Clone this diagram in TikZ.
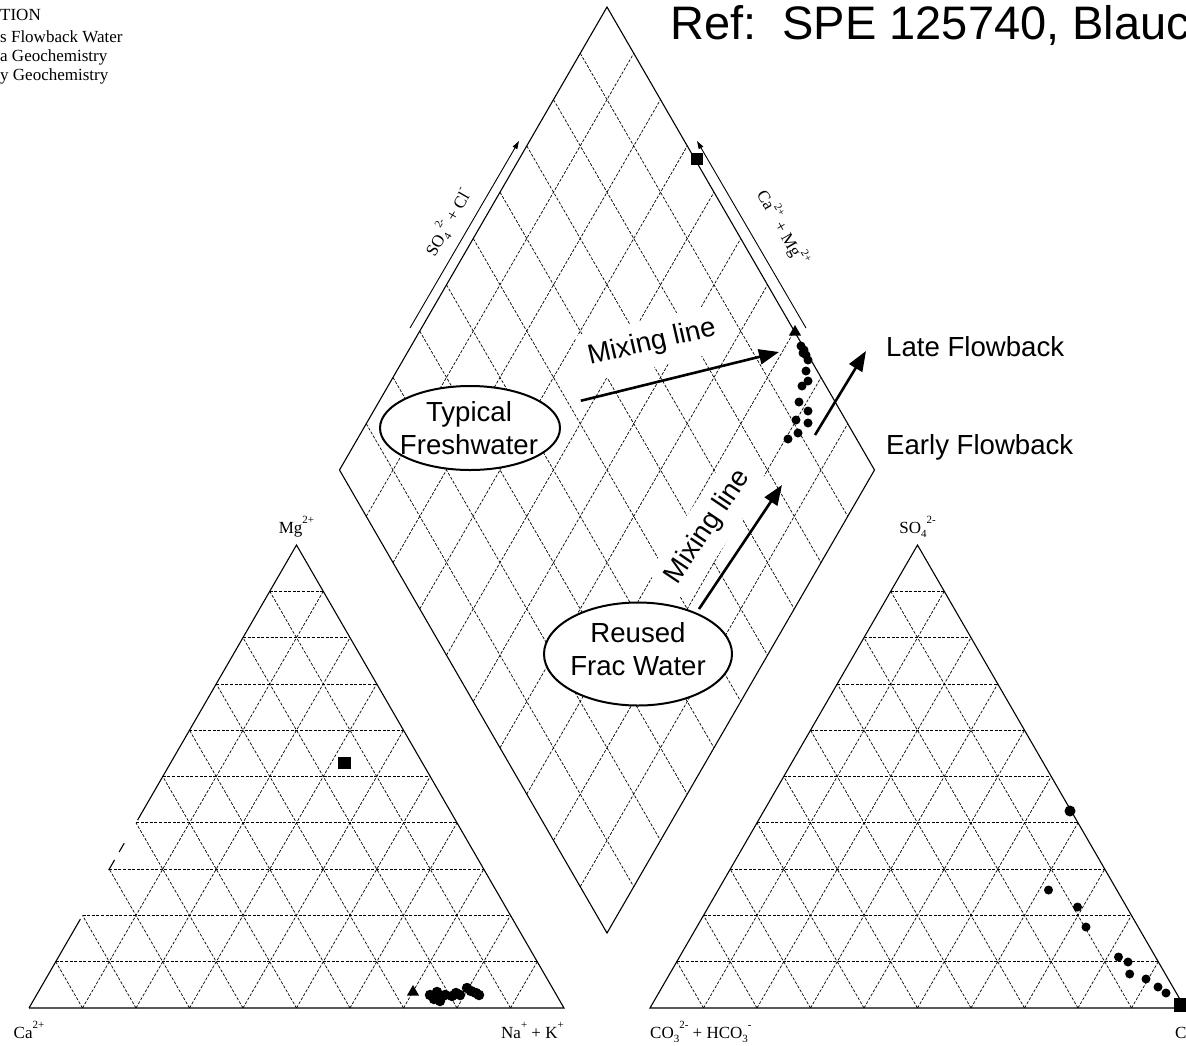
\documentclass[tikz,border=0pt]{standalone}
\usepackage{fontspec}
\setmainfont{Liberation Serif}
\newfontfamily\arialf{Liberation Sans}
\usetikzlibrary{arrows.meta,calc,shapes.geometric}
\newcommand\supx[1]{\raisebox{0.55em}{\fontsize{11}{11}\selectfont #1}}
\newcommand\subx[1]{\raisebox{-0.25em}{\fontsize{11}{11}\selectfont #1}}
\begin{document}
\begin{tikzpicture}[x=1pt,y=-1pt,
  edgeline/.style={line width=1.1pt},
  gridline/.style={line width=0.7pt,dash pattern=on 3pt off 1.6pt},
  lbl/.style={font=\fontsize{17}{17}\selectfont,inner sep=0pt},
  legendtxt/.style={font=\fontsize{17}{17}\selectfont,inner sep=0pt,anchor=base west},
  bigfont/.style={font=\arialf\fontsize{27.6}{33}\selectfont},
  oval/.style={ellipse,draw,line width=2pt,fill=white,inner sep=0pt},
  mixarrow/.style={-{Triangle[length=20pt,width=15pt]},line width=2.6pt},
  axarrow/.style={-{Triangle[length=8pt,width=5pt]},line width=0.9pt},
  dotm/.style={circle,fill=black,inner sep=0pt,minimum size=9pt},
  blobm/.style={circle,fill=black,inner sep=0pt,minimum size=10.5pt},
  sqm/.style={rectangle,fill=black,inner sep=0pt,minimum size=12.5pt},
  trimark/.style={regular polygon,regular polygon sides=3,fill=black,inner sep=0pt,minimum size=14pt},
  mixtxt/.style={bigfont,fill=white,inner xsep=8pt,inner ysep=11pt}
]
\useasboundingbox (0,0) rectangle (1186,1045);
\fill[white] (0,0) rectangle (1186,1045);

% ---------- legend (cut) ----------
\node[legendtxt] (lg1) at (0,20) {TION};
\node[legendtxt] (lg2) at (0,42) {s Flowback Water};
\node[legendtxt] (lg3) at (0,61) {a Geochemistry};
\node[legendtxt] (lg4) at (0,80) {y Geochemistry};

% ---------- title ----------
\node[anchor=base west,inner sep=0pt,font=\arialf\fontsize{47}{47}\selectfont] (title) at (670,39) {Ref:\ \ SPE 125740, Blauch};

% ---------- coordinates ----------
\coordinate (LA) at (29,1008);
\coordinate (LB) at (564,1008);
\coordinate (LC) at (296.5,545);
\coordinate (RA) at (650,1008);
\coordinate (RB) at (1185,1008);
\coordinate (RC) at (917.5,545);
\coordinate (DT) at (607,7);
\coordinate (DL) at (339.5,470);
\coordinate (DB) at (607,933);
\coordinate (DR) at (874.5,470);

% ---------- grids ----------
\foreach \k in {1,...,9} {
  \pgfmathsetmacro\t{\k/10}
  \draw[gridline] ($(LA)!\t!(LC)$) -- ($(LB)!\t!(LC)$);
  \draw[gridline] ($(LA)!\t!(LB)$) -- ($(LC)!\t!(LB)$);
  \draw[gridline] ($(LA)!\t!(LB)$) -- ($(LA)!\t!(LC)$);
  \draw[gridline] ($(RA)!\t!(RC)$) -- ($(RB)!\t!(RC)$);
  \draw[gridline] ($(RA)!\t!(RB)$) -- ($(RC)!\t!(RB)$);
  \draw[gridline] ($(RA)!\t!(RB)$) -- ($(RA)!\t!(RC)$);
  \draw[gridline] ($(DL)!\t!(DB)$) -- ($(DT)!\t!(DR)$);
  \draw[gridline] ($(DL)!\t!(DT)$) -- ($(DB)!\t!(DR)$);
}

% ---------- outlines ----------
\draw[edgeline] (LA) -- (LB) -- (LC) -- ($(LC)!0.594!(LA)$);
\draw[edgeline] ($(LC)!0.808!(LA)$) -- (LA);
\draw[edgeline] ($(LC)!0.644!(LA)$) -- ($(LC)!0.663!(LA)$);
\draw[edgeline] ($(LC)!0.680!(LA)$) -- ($(LC)!0.702!(LA)$);
\draw[edgeline] (RA) -- (RB) -- (RC) -- cycle;
\draw[edgeline] (DT) -- (DR) -- (DB) -- (DL) -- cycle;

% ---------- axis labels ----------
\node[lbl,anchor=base] (mg) at (296.5,533) {Mg\supx{2+}};
\node[lbl,anchor=base] (ca) at (29,1038) {Ca\supx{2+}};
\node[lbl,anchor=base east] (nak) at (564,1038) {Na\supx{+} + K\supx{+}};
\node[lbl,anchor=base] (so4) at (917.5,533) {SO\subx{4}\supx{2-}};
\node[lbl,anchor=base west] (co3) at (650,1038) {CO\subx{3}\supx{2-} + HCO\subx{3}\supx{-}};
\node[lbl,anchor=base] (cl) at (1185,1038) {Cl\supx{-}};

\node[lbl,rotate=60] (so4cl) at (448,222) {SO\subx{4}\supx{2-} + Cl\supx{-}};
\node[lbl,rotate=-60] (camg) at (783,228) {Ca\supx{2+} + Mg\supx{2+}};

\coordinate (ax1s) at (410,328);
\coordinate (ax1e) at (519,141);
\coordinate (ax2s) at (806,328);
\coordinate (ax2e) at (697,141);
\draw[axarrow] (ax1s) -- (ax1e);
\draw[axarrow] (ax2s) -- (ax2e);

% ---------- ovals and mixing-line labels ----------
\node[oval,minimum width=180pt,minimum height=84pt] (fresh) at (470,428) {};
\node[bigfont,align=center,inner sep=0pt] (freshtxt) at (469,428) {Typical\\Freshwater};
\node[oval,minimum width=188pt,minimum height=103pt] (reused) at (638,654) {};
\node[bigfont,align=center,inner sep=0pt] (reusedtxt) at (638,649) {Reused\\Frac Water};

\node[mixtxt,rotate=13] (mix1) at (652,343) {Mixing line};
\node[mixtxt,rotate=56] (mix2) at (708,527) {Mixing line};

\node[bigfont,anchor=west,inner sep=0pt] (late) at (886,347) {Late Flowback};
\node[bigfont,anchor=west,inner sep=0pt] (early) at (886,447) {Early Flowback};

% ---------- data ----------
\node[sqm] (dsq) at (697,159) {};
\node[trimark] (dtri) at (795,332) {};
\foreach \x/\y [count=\i] in {801/346,804/350,806/355,808/360,803/353,806/371,808/381,802/386,799/402,808/411,796/420,808/423,798/433,788/439}
  \node[dotm] (dd\i) at (\x,\y) {};

\node[sqm] (lsq) at (344.5,763) {};
\node[trimark] (ltri) at (413,992) {};
\foreach \x/\y [count=\i] in {430/995,434/999,437/992,441/997,445/995,440/1001,452/996,456/993,460/995,467/988,471/991,476/993,479/995}
  \node[blobm] (ld\i) at (\x,\y) {};

\node[dotm,minimum size=11pt] (rd0) at (1070,811) {};
\foreach \x/\y [count=\i] in {1048.5/890,1077.5/907,1086/927,1118.5/957,1128/962,1129.7/974,1146/979,1158/987,1166/993}
  \node[dotm] (rd\i) at (\x,\y) {};
\node[sqm,minimum size=14pt] (rsq) at (1181,1005) {};

% ---------- arrows ----------
\coordinate (m1e) at (779,352);
\coordinate (m2s) at (699,609);
\coordinate (m2e) at (782,485);
\coordinate (lfs) at (815,435);
\coordinate (lfe) at (866,351);
\draw[mixarrow,shorten <=31pt] (fresh) -- (m1e);
\draw[mixarrow] (m2s) -- (m2e);
\draw[mixarrow] (lfs) -- (lfe);
\end{tikzpicture}
\end{document}
